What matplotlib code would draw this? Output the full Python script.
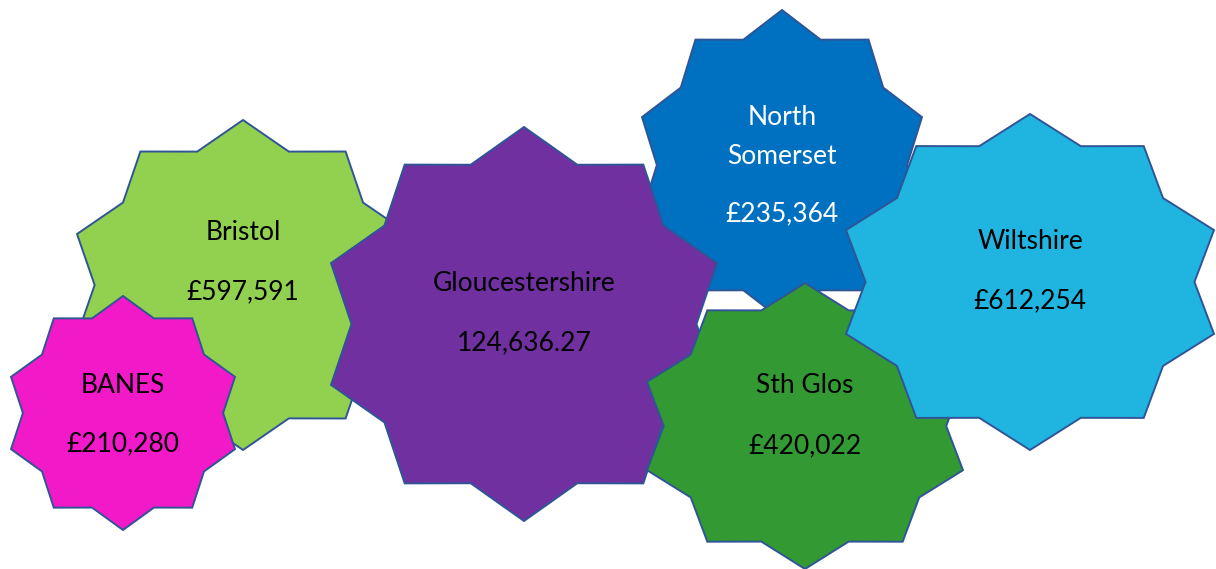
import numpy as np
import matplotlib.pyplot as plt
from matplotlib.patches import Polygon

# areas and the amounts shown on each star
areas = ["Bristol", "BANES", "North\nSomerset", "Gloucestershire", "Sth Glos", "Wiltshire"]
amounts = ["£597,591", "£210,280", "£235,364", "124,636.27", "£420,022", "£612,254"]
fills = ["#92D050", "#F219C8", "#0070C0", "#7030A0", "#339933", "#20B5E0"]
text_cols = ["black", "black", "white", "black", "black", "black"]

# star layout in pixels: centre x, centre y, half width, half height
boxes = [
    (243, 285, 166, 165),
    (123, 413, 112, 117),
    (782, 165, 140, 155),
    (524, 324, 193, 197),
    (805, 426, 158, 143),
    (1030, 282, 184, 168),
]
name_y = [232, 385, 137, 283, 385, 241]
amount_y = [292, 444, 214, 343, 446, 301]

W, H = 1216, 569


def star10(cx, cy, hw, hh, inner=0.85):
    # 10 point star, top point up, stretched to its box
    ax_ = hw / np.cos(np.radians(18))
    pts = []
    for k in range(20):
        ang = np.radians(90 - k * 18)
        r = 1.0 if k % 2 == 0 else inner
        pts.append((cx + ax_ * r * np.cos(ang), cy - hh * r * np.sin(ang)))
    return pts


fig = plt.figure(figsize=(W / 100, H / 100), dpi=100)
ax = fig.add_axes([0, 0, 1, 1])
ax.set_xlim(0, W)
ax.set_ylim(H, 0)
ax.axis("off")

for i, (cx, cy, hw, hh) in enumerate(boxes):
    ax.add_patch(Polygon(star10(cx, cy, hw, hh), closed=True, facecolor=fills[i],
                         edgecolor="#2F5597", linewidth=1.4, zorder=i + 1))
    ax.text(cx, name_y[i], areas[i], ha="center", va="center", fontsize=19,
            family="Lato", color=text_cols[i], linespacing=1.7, zorder=20)
    ax.text(cx, amount_y[i], amounts[i], ha="center", va="center", fontsize=19,
            family="Lato", color=text_cols[i], zorder=20)

fig.savefig("out.png", dpi=100)
